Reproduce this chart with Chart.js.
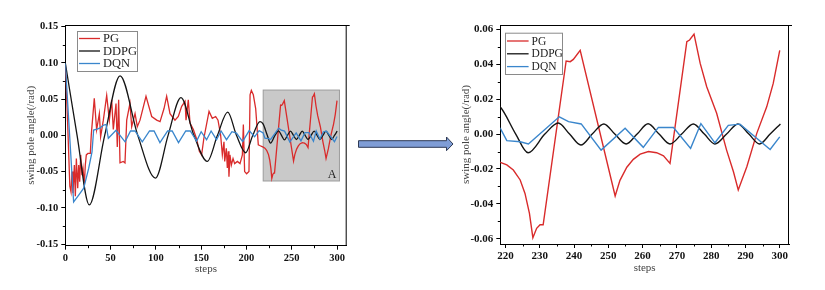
<!DOCTYPE html>
<html>
<head>
<meta charset="utf-8">
<script src="https://cdn.jsdelivr.net/npm/chart.js@4.4.0/dist/chart.umd.min.js"></script>
<style>
  html, body { margin: 0; padding: 0; background: #fff; }
  body { width: 825px; height: 290px; position: relative; overflow: hidden; }
  #left { position: absolute; left: 0; top: 0; }
  #right { position: absolute; left: 440px; top: 0; }
  #arrow { position: absolute; left: 0; top: 0; }
</style>
</head>
<body>
<canvas id="left" width="380" height="290"></canvas>
<canvas id="right" width="385" height="290"></canvas>
<svg id="arrow" width="825" height="290">
  <polygon points="358.5,140.7 446.5,140.7 446.5,137 453,144 446.5,150.7 446.5,147.3 358.5,147.3"
           fill="#7f9dd6" stroke="#2e3a55" stroke-width="1"/>
</svg>
<script>
// swing pole angle per step
const pgSteps = [0, 2.5, 5, 6.3, 7.4, 8.5, 10, 11.1, 12.2, 13.7,
  14.8, 15.9, 17, 18.4, 19.5, 21, 22.1, 23.2, 25, 27.6,
  28.7, 32, 34.6, 37.6, 39, 42, 45.7, 48.6, 51.2, 53,
  56, 57.4, 58.9, 60.4, 64, 65.9, 67.8, 71.4, 73.3, 77,
  79.5, 82.5, 89.1, 95.4, 100.9, 104.6, 109, 111.9, 115.6, 121.1,
  124.8, 128.5, 132.2, 133.3, 135.8, 137.7, 141.4, 145, 148, 150.5,
  153, 158.7, 162.3, 166, 168.6, 171.5, 173.4, 175.2, 176, 177.8,
  178.9, 180, 180.7, 181.8, 183.3, 185.2, 187, 190, 192.9, 195.5,
  196.6, 198, 200.2, 202.8, 204, 205.4, 207.6, 210.2, 213.1, 214.6,
  218.5, 220.4, 222.3, 224.3, 225.7, 227, 228, 229.1, 230.1, 231,
  237.7, 238.9, 239.8, 241.8, 252, 253.4, 255.4, 257.3, 259.3, 261.7,
  264.1, 266.1, 268, 272.9, 273.7, 275, 276.8, 278.7, 281.6, 284.5,
  286.5, 287.9, 290.4, 293.3, 296.2, 298.1, 300];
const pgValues = [0.098, 0.02, -0.07, -0.078, -0.05, -0.08, -0.041, -0.084, -0.032, -0.073,
  -0.041, -0.064, -0.027, -0.055, -0.045, -0.068, -0.041, -0.027, -0.025, -0.025,
  0.001, 0.051, 0.008, 0.030, -0.002, 0.021, 0.055, 0.021, 0.049, 0.008,
  0.044, -0.016, 0.049, -0.038, -0.036, -0.038, 0.021, 0.044, 0.012, 0.030,
  0.012, 0.021, 0.054, 0.026, 0.021, 0.019, 0.037, 0.054, 0.030, 0.021,
  0.026, 0.040, 0.047, 0.021, 0.049, 0.017, 0.008, -0.005, -0.022, -0.027,
  -0.004, 0.033, 0.0235, 0.026, 0.021, 0.0005, -0.027, -0.009, -0.036, -0.018,
  -0.045, -0.022, -0.057, -0.027, -0.041, -0.032, -0.039, -0.036, -0.039, -0.027,
  0.015, -0.05, -0.053, -0.05, 0.056, 0.062, 0.056, 0.037, -0.013, -0.014,
  -0.0162, -0.0177, -0.0206, -0.0263, -0.034, -0.0455, -0.0594, -0.054, -0.052, -0.052,
  0.0419, 0.0415, 0.0428, 0.048, -0.0355, -0.0265, -0.019, -0.0145, -0.0115, -0.010,
  -0.0107, -0.0125, -0.0168, 0.0529, 0.0539, 0.0573, 0.0405, 0.0271, 0.0119, -0.0092,
  -0.0216, -0.032, -0.0187, 0.0004, 0.0156, 0.029, 0.048];

const ddpgSteps = [0, 13, 26.5, 43.5, 60.5, 80, 99.5, 113.5, 127.7, 142,
  156.8, 168, 179.3, 189, 199.1, 207, 215, 218.5, 223, 226.6,
  231.5, 235.4, 238.7, 242, 245.3, 248.7, 251.9, 255.2, 258.4, 261.6,
  264.8, 268, 271.4, 274.8, 278, 281.1, 284.5, 287.8, 291, 294.1,
  297.2, 300.2];
const ddpgValues = [0.1, 0, -0.096, 0, 0.082, 0, -0.059, 0, 0.052, 0,
  -0.036, 0, 0.032, 0, -0.024, 0, 0.019, 0.0155, 0, -0.0107,
  0, 0.0063, 0, -0.0063, 0, 0.0058, 0, -0.0057, 0, 0.0059,
  0, -0.0057, 0, 0.0058, 0, -0.0057, 0, 0.0058, 0, -0.0057,
  0, 0.0058];

const dqnSteps = [0, 9.2, 14.8, 20.3, 25.8, 29.5, 31.3, 35, 38, 42.4,
  45, 47.5, 56, 66, 72, 77, 85, 93, 98, 104.5,
  113, 118, 125, 133, 138, 145, 150, 156, 161, 167,
  172, 178, 184, 189, 195.8, 203, 209, 214, 218.5, 220.4,
  224.3, 226.7, 235.7, 238.4, 242.1, 247.9, 254.9, 260.2, 264.6, 269,
  274, 277, 281.1, 285, 288.4, 297.2, 300];
const dqnValues = [0.0995, -0.092, -0.0825, -0.073, -0.0456, -0.0227, 0.0073, 0.0087, 0.010, 0.0142,
  0.015, -0.004, 0.007, -0.009, 0.006, 0.006, -0.009, 0.006, 0.006, -0.010,
  0.006, 0.006, -0.010, 0.006, 0.006, -0.008, 0.005, -0.006, 0.006, -0.006,
  0.006, -0.006, 0.005, 0.003, -0.0087, 0.0065, -0.002, 0.0065, 0.0033, -0.0038,
  -0.0044, -0.0057, 0.0099, 0.0071, 0.0058, -0.0092, 0.0033, -0.0076, 0.0038, 0.0038,
  -0.0082, 0.006, -0.005, 0.005, 0.0057, -0.0088, -0.0016];

const seriesNames = ['PG', 'DDPG', 'DQN'];

// tick labels
const leftXTicks = [0, 50, 100, 150, 200, 250, 300];
const leftYTicks = [-0.15, -0.10, -0.05, 0, 0.05, 0.10, 0.15];
const rightXTicks = [220, 230, 240, 250, 260, 270, 280, 290, 300];
const rightYTicks = [-0.06, -0.04, -0.02, 0, 0.02, 0.04, 0.06];

// zoomed region "A"
const zoomX = [218.5, 302.7];
const zoomY = [-0.063, 0.0625];

const serif = '"Liberation Serif", "Times New Roman", serif';
const colors = ['#d92b2b', '#141414', '#3a86cc'];

function pairs(xs, ys) {
  return xs.map((x, i) => ({ x: x, y: ys[i] }));
}

// frame, minor ticks, legend box and zoom box
const decor = {
  id: 'decor',
  beforeDatasetsDraw(chart, args, o) {
    if (!o.box) return;
    const ctx = chart.ctx, xs = chart.scales.x, ys = chart.scales.y;
    const x0 = xs.getPixelForValue(o.box.x[0]), x1 = xs.getPixelForValue(o.box.x[1]);
    const y0 = ys.getPixelForValue(o.box.y[1]), y1 = ys.getPixelForValue(o.box.y[0]);
    ctx.save();
    ctx.fillStyle = '#c9c9c9';
    ctx.strokeStyle = '#9c9c9c';
    ctx.lineWidth = 1;
    ctx.fillRect(x0, y0, x1 - x0, y1 - y0);
    ctx.strokeRect(x0, y0, x1 - x0, y1 - y0);
    ctx.restore();
  },
  afterDraw(chart, args, o) {
    const ctx = chart.ctx, a = chart.chartArea;
    const xs = chart.scales.x, ys = chart.scales.y;
    ctx.save();
    ctx.strokeStyle = '#000';
    ctx.lineWidth = 1;
    ctx.beginPath();
    ctx.moveTo(a.left, a.top + 0.5);
    ctx.lineTo(a.right + 3, a.top + 0.5);
    ctx.moveTo(a.right - 0.5, a.top);
    ctx.lineTo(a.right - 0.5, a.bottom);
    // minor ticks
    for (const v of o.minorX) {
      const px = Math.round(xs.getPixelForValue(v)) + 0.5;
      ctx.moveTo(px, a.bottom);
      ctx.lineTo(px, a.bottom + 2.5);
    }
    for (const v of o.minorY) {
      const py = Math.round(ys.getPixelForValue(v)) + 0.5;
      ctx.moveTo(a.left, py);
      ctx.lineTo(a.left - 2.5, py);
    }
    ctx.stroke();

    if (o.box) {
      ctx.fillStyle = '#222';
      ctx.font = '12px ' + serif;
      ctx.textAlign = 'center';
      ctx.textBaseline = 'middle';
      ctx.fillText('A', o.box.labelX, o.box.labelY);
    }

    // legend
    const L = o.legend;
    ctx.fillStyle = '#fff';
    ctx.fillRect(L.x, L.y, L.w, L.h);
    ctx.strokeStyle = '#8a8a8a';
    ctx.strokeRect(L.x + 0.5, L.y + 0.5, L.w, L.h);
    ctx.font = L.font + 'px ' + serif;
    ctx.textAlign = 'left';
    ctx.textBaseline = 'middle';
    chart.data.datasets.forEach((ds, i) => {
      const y = L.rowY + i * L.rowH;
      ctx.strokeStyle = ds.borderColor;
      ctx.lineWidth = 1.3;
      ctx.beginPath();
      ctx.moveTo(L.x + 2, y);
      ctx.lineTo(L.x + 2 + L.lineLen, y);
      ctx.stroke();
      ctx.fillStyle = '#222';
      ctx.fillText(ds.label, L.x + 5 + L.lineLen, y + 0.5);
    });
    ctx.restore();
  }
};

function datasets(width) {
  const sets = [pairs(pgSteps, pgValues), pairs(ddpgSteps, ddpgValues), pairs(dqnSteps, dqnValues)];
  return sets.map((d, i) => ({
    label: seriesNames[i],
    data: d,
    borderColor: colors[i],
    borderWidth: width,
    pointRadius: 0,
    fill: false,
    tension: 0,
    cubicInterpolationMode: i === 1 ? 'monotone' : 'default',
    order: 3 - i
  }));
}

function makeChart(id, c) {
  const tickFont = { family: serif, size: c.tickSize, weight: 'bold' };
  const titleFont = { family: serif, size: 11 };
  return new Chart(document.getElementById(id), {
    type: 'line',
    data: { datasets: datasets(c.lineWidth) },
    options: {
      responsive: false,
      devicePixelRatio: 1,
      animation: false,
      events: [],
      layout: { padding: { left: 0, top: 25, right: c.padRight, bottom: 0 } },
      plugins: {
        legend: { display: false },
        tooltip: { enabled: false },
        decor: { box: c.box, legend: c.legend, minorX: c.minorX, minorY: c.minorY }
      },
      scales: {
        x: {
          type: 'linear',
          min: c.xMin, max: c.xMax,
          afterBuildTicks: s => { s.ticks = c.xTicks.map(v => ({ value: v })); },
          afterFit: s => { s.height = c.xHeight; },
          grid: { drawOnChartArea: false, drawTicks: true, tickLength: 4, tickColor: '#000' },
          border: { display: true, color: '#000', width: 1 },
          ticks: { font: tickFont, color: '#111', padding: 2, maxRotation: 0, autoSkip: false,
                   callback: v => String(v) },
          title: { display: true, text: 'steps', font: titleFont, color: '#444',
                   padding: { top: 0, bottom: c.xTitlePad } }
        },
        y: {
          type: 'linear',
          min: c.yMin, max: c.yMax,
          afterBuildTicks: s => { s.ticks = c.yTicks.map(v => ({ value: v })); },
          afterFit: s => { s.width = c.yWidth; },
          grid: { drawOnChartArea: false, drawTicks: true, tickLength: 4, tickColor: '#000' },
          border: { display: true, color: '#000', width: 1 },
          ticks: { font: tickFont, color: '#111', padding: 3, autoSkip: false,
                   callback: v => v.toFixed(2) },
          title: { display: true, text: 'swing pole angle(/rad)', font: titleFont, color: '#444',
                   padding: { top: c.yTitlePad, bottom: 0 } }
        }
      }
    },
    plugins: [decor]
  });
}

makeChart('left', {
  lineWidth: 1.3, tickSize: 10.5,
  xMin: 0, xMax: 310.7, yMin: -0.1523, yMax: 0.1523,
  xTicks: leftXTicks, yTicks: leftYTicks,
  minorX: [25, 75, 125, 175, 225, 275],
  minorY: [-0.125, -0.075, -0.025, 0.025, 0.075, 0.125],
  padRight: 33.3, xHeight: 44.3, yWidth: 65.3, xTitlePad: 14.4, yTitlePad: 25,
  box: { x: zoomX, y: zoomY, labelX: 332, labelY: 174.5 },
  legend: { x: 77, y: 31, w: 60, h: 40, rowY: 38.5, rowH: 12.5, lineLen: 21, font: 12.5 }
});

makeChart('right', {
  lineWidth: 1.4, tickSize: 11,
  xMin: zoomX[0], xMax: zoomX[1], yMin: zoomY[0], yMax: zoomY[1],
  xTicks: rightXTicks, yTicks: rightYTicks,
  minorX: [225, 235, 245, 255, 265, 275, 285, 295],
  minorY: [-0.05, -0.03, -0.01, 0.01, 0.03, 0.05],
  padRight: 36, xHeight: 46, yWidth: 60.3, xTitlePad: 15.7, yTitlePad: 20,
  box: null,
  legend: { x: 65, y: 32.7, w: 57, h: 41.3, rowY: 41, rowH: 12.8, lineLen: 21.6, font: 11.5 }
});
</script>
</body>
</html>
